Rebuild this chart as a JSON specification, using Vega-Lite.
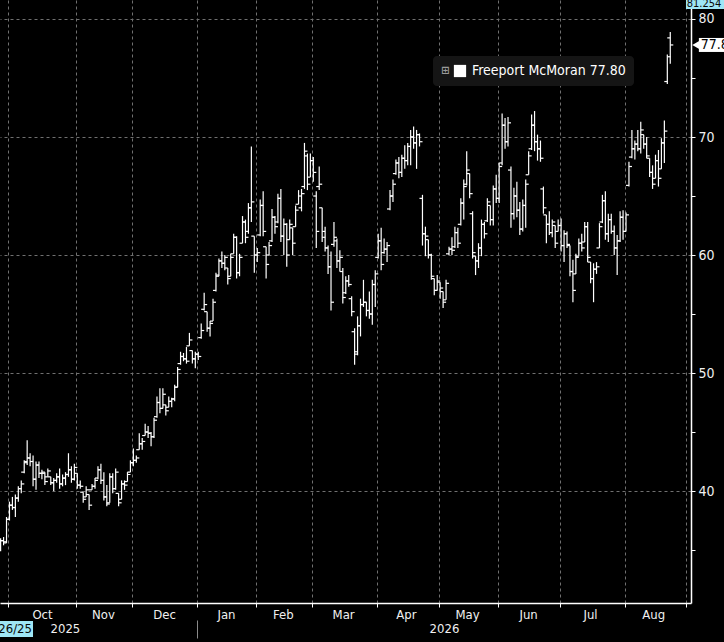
{
"$schema": "https://vega.github.io/schema/vega-lite/v6.json",
"width": 691, "height": 603,
"autosize": {"type": "none"},
"padding": {"left": 0, "top": 0, "right": 33, "bottom": 39},
"background": "#000000",
"config": {"view": {"stroke": null}, "font": "DejaVu Sans Condensed"},
"datasets": {"bars": [
{"d":0,"o":35.0,"h":36.0,"l":34.9,"c":35.8},{"d":1,"o":35.8,"h":36.1,"l":35.4,"c":35.6},{"d":2,"o":35.7,"h":37.8,"l":35.6,"c":37.6},{"d":3,"o":37.6,"h":39.1,"l":37.5,"c":38.8},{"d":4,"o":38.8,"h":39.5,"l":38.4,"c":38.6},{"d":5,"o":38.6,"h":39.7,"l":37.8,"c":39.4},{"d":6,"o":39.4,"h":40.4,"l":39.1,"c":40.2},{"d":7,"o":40.2,"h":40.9,"l":39.8,"c":40.6},{"d":8,"o":41.6,"h":42.6,"l":41.5,"c":42.4},{"d":9,"o":42.5,"h":44.3,"l":42.2,"c":42.8},
{"d":10,"o":42.8,"h":43.2,"l":42.1,"c":42.5},{"d":11,"o":42.5,"h":43.0,"l":40.4,"c":41.0},{"d":12,"o":41.0,"h":42.5,"l":40.1,"c":42.2},{"d":13,"o":42.2,"h":42.5,"l":41.1,"c":41.5},{"d":14,"o":41.5,"h":41.8,"l":41.0,"c":41.6},{"d":15,"o":41.5,"h":41.6,"l":40.5,"c":40.8},{"d":16,"o":41.2,"h":41.9,"l":41.2,"c":41.7},{"d":17,"o":41.2,"h":41.2,"l":40.5,"c":40.7},{"d":18,"o":40.7,"h":41.1,"l":40.0,"c":40.9},{"d":19,"o":40.9,"h":41.5,"l":40.7,"c":41.2},
{"d":20,"o":41.2,"h":41.9,"l":40.2,"c":40.6},{"d":21,"o":40.6,"h":41.4,"l":40.4,"c":41.1},{"d":22,"o":41.1,"h":41.6,"l":40.5,"c":41.4},{"d":23,"o":41.4,"h":43.2,"l":41.2,"c":41.8},{"d":24,"o":41.8,"h":42.1,"l":40.7,"c":41.0},{"d":25,"o":41.0,"h":42.3,"l":40.9,"c":42.0},{"d":26,"o":41.5,"h":41.5,"l":40.2,"c":40.5},{"d":27,"o":40.5,"h":40.9,"l":40.2,"c":40.4},{"d":28,"o":39.9,"h":39.9,"l":39.0,"c":39.3},{"d":29,"o":39.5,"h":40.4,"l":39.5,"c":40.1},
{"d":30,"o":39.7,"h":39.7,"l":38.4,"c":38.8},{"d":31,"o":40.1,"h":40.6,"l":40.1,"c":40.4},{"d":32,"o":40.4,"h":41.1,"l":40.2,"c":40.9},{"d":33,"o":41.1,"h":42.1,"l":41.0,"c":41.8},{"d":34,"o":41.8,"h":42.3,"l":40.6,"c":40.9},{"d":35,"o":40.9,"h":41.6,"l":39.2,"c":39.5},{"d":36,"o":39.5,"h":40.5,"l":38.7,"c":38.9},{"d":37,"o":39.0,"h":41.5,"l":39.0,"c":41.2},{"d":38,"o":41.2,"h":41.5,"l":39.8,"c":40.2},{"d":39,"o":40.2,"h":41.9,"l":40.1,"c":41.6},
{"d":40,"o":39.8,"h":39.8,"l":38.7,"c":39.0},{"d":41,"o":39.3,"h":40.9,"l":39.3,"c":40.6},{"d":42,"o":40.6,"h":40.9,"l":40.1,"c":40.5},{"d":43,"o":40.8,"h":41.6,"l":40.8,"c":41.4},{"d":44,"o":41.6,"h":42.6,"l":41.6,"c":42.4},{"d":45,"o":42.4,"h":43.6,"l":42.1,"c":42.6},{"d":46,"o":42.6,"h":43.0,"l":42.4,"c":42.8},{"d":47,"o":43.5,"h":44.9,"l":43.5,"c":44.0},{"d":48,"o":44.0,"h":44.5,"l":43.5,"c":44.2},{"d":49,"o":44.7,"h":45.7,"l":44.7,"c":45.0},
{"d":50,"o":45.0,"h":45.5,"l":44.5,"c":44.9},{"d":51,"o":44.9,"h":45.0,"l":43.8,"c":44.6},{"d":52,"o":44.6,"h":46.2,"l":44.5,"c":46.0},{"d":53,"o":46.3,"h":48.0,"l":46.2,"c":47.5},{"d":54,"o":47.5,"h":48.7,"l":46.6,"c":47.0},{"d":55,"o":47.0,"h":48.7,"l":47.0,"c":48.2},{"d":56,"o":47.3,"h":47.3,"l":46.4,"c":46.8},{"d":57,"o":47.1,"h":48.0,"l":47.1,"c":47.6},{"d":58,"o":47.6,"h":47.9,"l":47.1,"c":47.8},{"d":59,"o":47.8,"h":49.0,"l":47.6,"c":48.8},
{"d":60,"o":48.8,"h":50.5,"l":48.8,"c":50.3},{"d":61,"o":50.8,"h":51.8,"l":50.7,"c":51.4},{"d":62,"o":51.4,"h":51.7,"l":51.0,"c":51.2},{"d":63,"o":51.2,"h":52.2,"l":50.8,"c":51.0},{"d":64,"o":52.3,"h":53.4,"l":52.3,"c":52.8},{"d":65,"o":51.9,"h":51.9,"l":50.8,"c":51.2},{"d":66,"o":51.2,"h":51.8,"l":50.4,"c":51.6},{"d":67,"o":51.6,"h":51.8,"l":51.1,"c":51.4},{"d":68,"o":53.0,"h":54.2,"l":52.9,"c":53.6},{"d":69,"o":55.4,"h":56.8,"l":55.3,"c":55.8},
{"d":70,"o":55.2,"h":55.2,"l":53.5,"c":53.8},{"d":71,"o":53.8,"h":54.4,"l":53.1,"c":54.2},{"d":72,"o":54.4,"h":56.3,"l":54.4,"c":56.0},{"d":73,"o":57.0,"h":58.5,"l":56.9,"c":58.2},{"d":74,"o":58.3,"h":59.7,"l":58.2,"c":59.5},{"d":75,"o":59.5,"h":60.3,"l":58.9,"c":59.3},{"d":76,"o":59.3,"h":60.0,"l":58.7,"c":59.8},{"d":77,"o":58.9,"h":58.9,"l":57.5,"c":58.0},{"d":78,"o":58.2,"h":60.1,"l":58.2,"c":59.8},{"d":79,"o":60.1,"h":61.8,"l":60.1,"c":61.5},
{"d":80,"o":61.5,"h":61.6,"l":58.0,"c":58.5},{"d":81,"o":58.5,"h":60.1,"l":58.2,"c":59.8},{"d":82,"o":61.0,"h":63.3,"l":61.0,"c":62.8},{"d":83,"o":62.8,"h":63.0,"l":61.0,"c":61.5},{"d":84,"o":62.0,"h":64.4,"l":61.8,"c":64.0},{"d":85,"o":64.0,"h":69.2,"l":62.8,"c":64.5},{"d":86,"o":61.6,"h":61.6,"l":58.5,"c":60.0},{"d":87,"o":60.0,"h":60.6,"l":59.4,"c":60.2},{"d":88,"o":61.7,"h":64.7,"l":61.6,"c":64.2},{"d":89,"o":64.2,"h":65.4,"l":61.6,"c":62.0},
{"d":90,"o":60.7,"h":60.7,"l":58.0,"c":59.2},{"d":91,"o":60.0,"h":61.1,"l":60.0,"c":60.8},{"d":92,"o":61.2,"h":63.9,"l":61.1,"c":63.2},{"d":93,"o":63.2,"h":63.3,"l":61.8,"c":62.4},{"d":94,"o":62.8,"h":65.2,"l":62.7,"c":64.8},{"d":95,"o":64.8,"h":65.6,"l":61.1,"c":61.6},{"d":96,"o":61.6,"h":63.1,"l":60.0,"c":62.6},{"d":97,"o":62.6,"h":62.7,"l":59.0,"c":60.0},{"d":98,"o":61.3,"h":63.0,"l":61.3,"c":62.6},{"d":99,"o":62.3,"h":62.3,"l":60.0,"c":61.0},
{"d":100,"o":62.4,"h":64.2,"l":62.4,"c":63.8},{"d":101,"o":64.3,"h":65.5,"l":64.3,"c":65.0},{"d":102,"o":64.0,"h":65.6,"l":63.7,"c":65.2},{"d":103,"o":65.8,"h":69.5,"l":65.6,"c":68.8},{"d":104,"o":68.4,"h":68.6,"l":65.5,"c":66.0},{"d":105,"o":66.6,"h":68.6,"l":66.6,"c":68.0},{"d":106,"o":68.0,"h":68.3,"l":66.2,"c":67.0},{"d":107,"o":65.0,"h":65.4,"l":60.6,"c":62.0},{"d":108,"o":65.8,"h":67.5,"l":65.5,"c":66.0},{"d":109,"o":64.0,"h":64.0,"l":61.1,"c":61.5},
{"d":110,"o":62.0,"h":62.4,"l":60.3,"c":60.6},{"d":111,"o":60.6,"h":60.8,"l":58.4,"c":59.0},{"d":112,"o":59.0,"h":60.3,"l":55.3,"c":56.0},{"d":113,"o":60.9,"h":62.8,"l":60.7,"c":61.5},{"d":114,"o":61.2,"h":61.4,"l":58.9,"c":59.5},{"d":115,"o":59.5,"h":60.4,"l":58.6,"c":59.8},{"d":116,"o":58.6,"h":58.9,"l":55.9,"c":56.4},{"d":117,"o":56.8,"h":58.2,"l":56.7,"c":57.8},{"d":118,"o":57.8,"h":58.3,"l":57.3,"c":57.5},{"d":119,"o":56.3,"h":56.5,"l":54.8,"c":55.2},
{"d":120,"o":53.5,"h":53.8,"l":50.7,"c":51.6},{"d":121,"o":51.8,"h":54.8,"l":51.5,"c":54.0},{"d":122,"o":54.0,"h":56.3,"l":53.1,"c":55.8},{"d":123,"o":55.8,"h":57.9,"l":55.6,"c":56.0},{"d":124,"o":56.0,"h":56.0,"l":54.8,"c":55.3},{"d":125,"o":55.3,"h":56.9,"l":54.6,"c":55.0},{"d":126,"o":55.0,"h":57.9,"l":54.1,"c":57.5},{"d":127,"o":57.5,"h":58.7,"l":55.6,"c":58.4},{"d":128,"o":59.8,"h":61.8,"l":59.7,"c":61.2},{"d":129,"o":61.2,"h":62.3,"l":58.7,"c":59.2},
{"d":130,"o":60.2,"h":61.4,"l":60.1,"c":60.5},{"d":131,"o":60.5,"h":61.1,"l":59.4,"c":60.8},{"d":132,"o":63.9,"h":65.5,"l":63.8,"c":65.0},{"d":133,"o":65.0,"h":66.4,"l":64.5,"c":66.0},{"d":134,"o":66.9,"h":68.1,"l":66.8,"c":67.8},{"d":135,"o":67.8,"h":68.3,"l":66.5,"c":67.0},{"d":136,"o":67.0,"h":68.5,"l":66.6,"c":68.2},{"d":137,"o":68.2,"h":69.3,"l":67.3,"c":68.0},{"d":138,"o":68.0,"h":69.5,"l":67.6,"c":69.2},{"d":139,"o":69.2,"h":70.6,"l":67.6,"c":70.0},
{"d":140,"o":70.0,"h":70.9,"l":69.0,"c":69.5},{"d":141,"o":69.5,"h":70.6,"l":67.3,"c":70.2},{"d":142,"o":70.2,"h":70.3,"l":69.2,"c":69.6},{"d":143,"o":64.8,"h":65.1,"l":60.8,"c":61.8},{"d":144,"o":61.8,"h":62.4,"l":59.9,"c":61.6},{"d":145,"o":61.3,"h":61.3,"l":59.7,"c":60.0},{"d":146,"o":60.0,"h":60.1,"l":57.9,"c":58.2},{"d":147,"o":58.0,"h":58.0,"l":56.6,"c":57.0},{"d":148,"o":57.0,"h":58.3,"l":57.0,"c":57.8},{"d":149,"o":57.7,"h":57.7,"l":56.3,"c":57.2},
{"d":150,"o":56.9,"h":56.9,"l":55.5,"c":56.0},{"d":151,"o":56.2,"h":57.9,"l":56.2,"c":57.6},{"d":152,"o":60.1,"h":60.7,"l":60.0,"c":60.5},{"d":153,"o":60.5,"h":61.5,"l":60.0,"c":60.4},{"d":154,"o":60.7,"h":62.4,"l":60.6,"c":61.9},{"d":155,"o":61.9,"h":62.3,"l":60.6,"c":61.0},{"d":156,"o":62.6,"h":64.8,"l":62.5,"c":64.4},{"d":157,"o":64.4,"h":66.4,"l":63.0,"c":65.8},{"d":158,"o":66.0,"h":68.8,"l":65.9,"c":67.2},{"d":159,"o":66.9,"h":66.9,"l":64.8,"c":65.2},
{"d":160,"o":63.5,"h":63.7,"l":59.7,"c":60.2},{"d":161,"o":59.9,"h":59.9,"l":58.3,"c":59.5},{"d":162,"o":59.5,"h":61.0,"l":58.9,"c":60.6},{"d":163,"o":60.6,"h":63.0,"l":59.9,"c":62.6},{"d":164,"o":62.6,"h":62.8,"l":61.4,"c":61.8},{"d":165,"o":62.9,"h":64.8,"l":62.8,"c":64.5},{"d":166,"o":64.2,"h":64.2,"l":62.5,"c":63.0},{"d":167,"o":63.0,"h":65.9,"l":62.5,"c":65.6},{"d":168,"o":65.6,"h":66.8,"l":64.4,"c":64.8},{"d":169,"o":64.8,"h":67.8,"l":64.4,"c":67.5},
{"d":170,"o":67.8,"h":72.0,"l":67.6,"c":71.0},{"d":171,"o":71.0,"h":71.6,"l":69.0,"c":69.6},{"d":172,"o":69.6,"h":71.7,"l":69.2,"c":71.2},{"d":173,"o":67.2,"h":67.5,"l":62.3,"c":63.5},{"d":174,"o":63.5,"h":65.7,"l":63.0,"c":65.0},{"d":175,"o":65.0,"h":66.2,"l":63.2,"c":63.8},{"d":176,"o":63.8,"h":64.5,"l":61.7,"c":62.2},{"d":177,"o":62.2,"h":64.7,"l":62.0,"c":64.2},{"d":178,"o":64.2,"h":66.4,"l":62.3,"c":66.0},{"d":179,"o":66.8,"h":68.8,"l":66.8,"c":68.4},
{"d":180,"o":69.0,"h":71.9,"l":68.9,"c":71.0},{"d":181,"o":71.0,"h":72.2,"l":68.8,"c":69.6},{"d":182,"o":69.6,"h":70.2,"l":68.0,"c":69.0},{"d":183,"o":69.0,"h":69.7,"l":67.9,"c":68.2},{"d":184,"o":65.6,"h":65.8,"l":63.5,"c":64.0},{"d":185,"o":63.4,"h":63.4,"l":61.0,"c":62.6},{"d":186,"o":62.6,"h":63.7,"l":61.7,"c":61.9},{"d":187,"o":61.9,"h":63.0,"l":61.5,"c":62.8},{"d":188,"o":62.5,"h":62.5,"l":60.6,"c":61.0},{"d":189,"o":62.0,"h":63.0,"l":62.0,"c":62.5},
{"d":190,"o":62.5,"h":63.1,"l":60.3,"c":60.8},{"d":191,"o":60.8,"h":62.1,"l":59.4,"c":61.8},{"d":192,"o":61.8,"h":62.0,"l":60.6,"c":60.9},{"d":193,"o":60.8,"h":60.8,"l":58.2,"c":58.6},{"d":194,"o":58.6,"h":59.6,"l":56.0,"c":57.0},{"d":195,"o":58.4,"h":60.1,"l":58.4,"c":59.8},{"d":196,"o":59.9,"h":61.4,"l":59.9,"c":61.0},{"d":197,"o":61.0,"h":61.8,"l":60.3,"c":60.6},{"d":198,"o":61.1,"h":62.8,"l":61.1,"c":62.4},{"d":199,"o":62.4,"h":62.8,"l":59.4,"c":59.8},
{"d":200,"o":59.4,"h":59.4,"l":57.6,"c":58.0},{"d":201,"o":58.0,"h":59.3,"l":56.0,"c":58.8},{"d":202,"o":58.8,"h":59.4,"l":58.4,"c":59.0},{"d":203,"o":60.6,"h":62.7,"l":60.6,"c":62.4},{"d":204,"o":62.8,"h":65.1,"l":62.7,"c":64.6},{"d":205,"o":64.6,"h":65.4,"l":61.3,"c":61.8},{"d":206,"o":61.8,"h":63.5,"l":61.1,"c":63.0},{"d":207,"o":63.0,"h":63.5,"l":61.8,"c":62.0},{"d":208,"o":62.0,"h":62.5,"l":60.0,"c":60.6},{"d":209,"o":60.6,"h":61.7,"l":58.3,"c":61.2},
{"d":210,"o":61.2,"h":63.7,"l":61.1,"c":63.2},{"d":211,"o":63.2,"h":63.8,"l":61.3,"c":62.0},{"d":212,"o":62.0,"h":63.6,"l":62.0,"c":63.4},{"d":213,"o":65.9,"h":67.9,"l":65.8,"c":67.5},{"d":214,"o":68.3,"h":70.6,"l":68.2,"c":69.0},{"d":215,"o":69.0,"h":69.7,"l":68.1,"c":69.4},{"d":216,"o":69.4,"h":70.6,"l":68.8,"c":69.0},{"d":217,"o":69.0,"h":71.3,"l":68.6,"c":70.6},{"d":218,"o":70.2,"h":70.2,"l":69.0,"c":69.4},{"d":219,"o":69.4,"h":70.0,"l":68.2,"c":68.4},
{"d":220,"o":68.2,"h":68.2,"l":66.6,"c":67.0},{"d":221,"o":67.0,"h":67.6,"l":65.6,"c":66.0},{"d":222,"o":66.5,"h":68.5,"l":66.5,"c":68.0},{"d":223,"o":68.0,"h":68.9,"l":65.8,"c":66.5},{"d":224,"o":67.3,"h":69.9,"l":67.3,"c":69.5},{"d":225,"o":69.5,"h":71.4,"l":67.8,"c":70.5},{"d":226,"o":74.7,"h":77.0,"l":74.5,"c":76.8},{"d":227,"o":78.4,"h":78.9,"l":76.2,"c":77.8}
]},
"resolve": {"axis": {"x": "independent", "y": "independent"}},
"layer": [
{
"data": {"name": "bars"},
"mark": {"type": "rule", "color": "#ffffff", "strokeWidth": 1.2},
"encoding": {
"x": {"field": "d", "type": "quantitative", "scale": {"domain": [-0.21, 234.03], "nice": false, "zero": false},
"axis": {"orient": "bottom", "title": null, "values": [2.5,25.5,44.5,66.5,86.5,105.5,127.5,148.5,168.5,189.5,211.5,232.5],
"labels": false,
"tickSize": 4, "tickColor": "#ffffff", "domainColor": "#ffffff", "domainWidth": 1.5,
"grid": true, "gridColor": "#707070", "gridDash": [3, 3], "gridWidth": 1}},
"y": {"field": "l", "type": "quantitative", "scale": {"domain": [30.51, 81.61], "nice": false, "zero": false},
"axis": {"orient": "right", "title": null, "values": [35,40,45,50,55,60,65,70,75,80],
"labelExpr": "datum.value % 10 === 0 ? datum.label : ''",
"grid": true, "gridColor": "#707070", "gridDash": [3, 3],
"gridOpacity": {"condition": {"test": "datum.value % 10 === 0", "value": 1}, "value": 0},
"tickSize": 4, "tickColor": "#ffffff", "domainColor": "#ffffff", "domainWidth": 1.5,
"labelColor": "#f0f0f0", "labelFontSize": 14, "labelFont": "DejaVu Sans Condensed", "labelPadding": 3}},
"y2": {"field": "h"}
}
},
{
"data": {"name": "bars"},
"mark": {"type": "tick", "orient": "horizontal", "size": 3, "thickness": 1.2, "xOffset": -1.5, "opacity": 1},
"encoding": {
"x": {"field": "d", "type": "quantitative", "scale": {"domain": [-0.21, 234.03], "nice": false, "zero": false},
"axis": {"orient": "bottom", "title": null, "values": [14.03,34.7,55.4,76.4,95.7,116.1,137.4,158.1,178.8,199.8,221.2],
"labelExpr": "['Oct','Nov','Dec','Jan','Feb','Mar','Apr','May','Jun','Jul','Aug'][indexof([14.03,34.7,55.4,76.4,95.7,116.1,137.4,158.1,178.8,199.8,221.2], datum.value)]",
"ticks": false, "domain": false, "grid": false, "labelPadding": 5,
"labelColor": "#f0f0f0", "labelFontSize": 13, "labelFont": "DejaVu Sans Condensed",
"labelOverlap": false, "labelFlush": false, "labelBound": false}},
"y": {"field": "o", "type": "quantitative", "axis": null},
"color": {"datum": "Freeport McMoran 77.80", "type": "nominal", "scale": {"range": ["#ffffff"]},
"legend": {"orient": "none", "legendX": 433, "legendY": 56, "fillColor": "#151515", "cornerRadius": 4, "padding": 8,
"title": "⊞", "titleOrient": "left", "titleColor": "#9a9a9a", "titleFontSize": 11, "titlePadding": 3,
"symbolType": "square", "symbolSize": 150, "symbolFillColor": "#ffffff", "symbolStrokeColor": "#ffffff", "symbolStrokeWidth": 0, "symbolOpacity": 1,
"labelColor": "#ffffff", "labelFontSize": 14, "labelFont": "DejaVu Sans Condensed", "labelOffset": 5, "labelLimit": 300}}
}
},
{
"data": {"name": "bars"},
"mark": {"type": "tick", "orient": "horizontal", "size": 3, "thickness": 1.2, "xOffset": 1.5, "color": "#ffffff", "opacity": 1},
"encoding": {
"x": {"field": "d", "type": "quantitative", "scale": {"domain": [-0.21, 234.03], "nice": false, "zero": false},
"axis": {"orient": "bottom", "title": null, "values": [21.8, 66.5, 150.3], "offset": 17, "domain": false, "grid": false,
"labelExpr": "datum.value === 21.8 ? '2025' : (datum.value === 150.3 ? '2026' : '')",
"tickSize": 18, "tickWidth": 1, "tickColor": {"condition": {"test": "datum.value === 66.5", "value": "#8a8a8a"}, "value": "transparent"},
"labelPadding": -16, "labelColor": "#f0f0f0", "labelFontSize": 13, "labelFont": "DejaVu Sans Condensed",
"labelOverlap": false, "labelFlush": false, "labelBound": false}},
"y": {"field": "c", "type": "quantitative", "axis": null}
}
},
{
"data": {"name": "bars"},
"transform": [{"filter": "datum.d === 227"}],
"mark": {"type": "rect", "color": "#ffffff", "yOffset": -7, "y2Offset": 7},
"encoding": {
"x": {"datum": 236.7, "type": "quantitative", "axis": null},
"x2": {"datum": 246},
"y": {"field": "c", "type": "quantitative", "axis": null},
"y2": {"field": "c"}
}
},
{
"data": {"name": "bars"},
"transform": [{"filter": "datum.d === 227"}],
"mark": {"type": "point", "shape": "triangle-left", "filled": true, "color": "#ffffff", "size": 110, "opacity": 1},
"encoding": {
"x": {"datum": 236.0, "type": "quantitative", "axis": null},
"y": {"field": "c", "type": "quantitative", "axis": null}
}
},
{
"data": {"name": "bars"},
"transform": [{"filter": "datum.d === 227"}],
"mark": {"type": "text", "align": "left", "baseline": "middle", "color": "#000000", "fontSize": 14, "font": "DejaVu Sans Condensed"},
"encoding": {
"x": {"datum": 237.3, "type": "quantitative", "axis": null},
"y": {"field": "c", "type": "quantitative", "axis": null},
"text": {"field": "c", "type": "quantitative", "format": ".1f"}
}
},
{
"data": {"values": [{"label": "81.254"}]},
"mark": {"type": "rect", "color": "#9fe6f5"},
"encoding": {
"x": {"datum": 232.33, "type": "quantitative", "axis": null},
"x2": {"datum": 246},
"y": {"datum": 80.85, "type": "quantitative", "axis": null},
"y2": {"datum": 81.8}
}
},
{
"data": {"values": [{"label": "81.254"}]},
"mark": {"type": "text", "align": "left", "baseline": "middle", "color": "#0a0a0a", "fontSize": 11, "font": "DejaVu Sans Condensed"},
"encoding": {
"x": {"datum": 232.6, "type": "quantitative", "axis": null},
"y": {"datum": 81.26, "type": "quantitative", "axis": null},
"text": {"field": "label"}
}
},
{
"data": {"values": [{"label": "9/26/25"}]},
"mark": {"type": "rect", "color": "#9fe6f5"},
"encoding": {
"x": {"datum": -2, "type": "quantitative", "axis": null},
"x2": {"datum": 10.98},
"y": {"datum": 28.98, "type": "quantitative", "axis": null},
"y2": {"datum": 27.63}
}
},
{
"data": {"values": [{"label": "9/26/25"}]},
"mark": {"type": "text", "align": "right", "baseline": "middle", "color": "#0a0a0a", "fontSize": 13, "font": "DejaVu Sans Condensed"},
"encoding": {
"x": {"datum": 10.64, "type": "quantitative", "axis": null},
"y": {"datum": 28.3, "type": "quantitative", "axis": null},
"text": {"field": "label"}
}
}
]
}
